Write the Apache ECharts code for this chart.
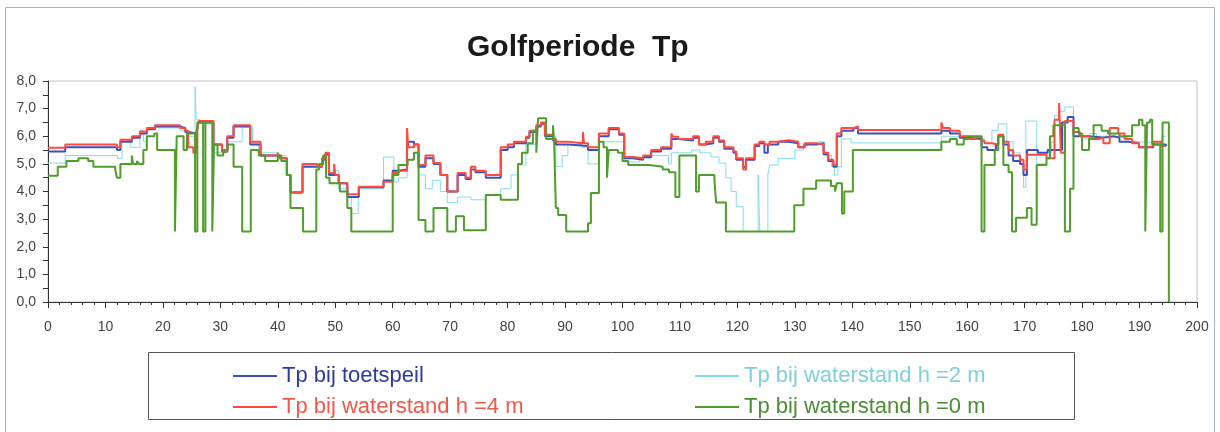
<!DOCTYPE html>
<html lang="nl">
  <head>
    <meta charset="UTF-8" />
    <title>Golfperiode Tp</title>
    <script src="https://cdn.jsdelivr.net/npm/echarts@6/dist/echarts.min.js"></script>
    <style>
      html, body { margin: 0; padding: 0; background: #fff; }
      #main { width: 1220px; height: 432px; }
    </style>
  </head>
  <body>
    <div id="main"></div>
    <script>
      // step data: [x where the value starts, value]
      const toetspeil = [
        [0, 5.45], [3.0, 5.6], [12.0, 5.5], [12.6, 5.8], [14.6, 5.95], [16.0, 6.1], [17.2, 6.25], [18.6, 6.35],
        [23.0, 6.3], [23.9, 6.15], [24.4, 6.1], [25.9, 6.2], [26.2, 6.5], [28.8, 5.7], [30.3, 5.45], [31.2, 5.95],
        [32.3, 6.35], [35.2, 5.7], [37.0, 5.3], [40.3, 5.2], [41.6, 4.6], [42.2, 3.96], [44.3, 4.9], [47.7, 5.15],
        [48.3, 5.35], [48.9, 4.6], [50.6, 4.3], [52.1, 3.8], [54.1, 4.15], [58.4, 4.4], [60.0, 4.75], [61.0, 4.8],
        [62.5, 5.8], [63.7, 5.7], [64.5, 4.9], [65.7, 5.2], [67.1, 5.0], [68.3, 4.6], [69.5, 4.0], [71.3, 4.6],
        [72.7, 4.45], [73.6, 4.8], [74.4, 4.7], [76.2, 4.5], [78.8, 5.5], [80.0, 5.6], [81.1, 5.75], [83.2, 5.95],
        [83.8, 6.15], [85.0, 6.35], [85.8, 6.45], [86.5, 6.0], [87.9, 5.85], [88.4, 5.7], [90.5, 5.65], [94.0, 5.5],
        [95.9, 6.0], [97.6, 6.25], [99.4, 6.05], [100.3, 5.2], [101.8, 5.15], [103.6, 5.25], [105.0, 5.45],
        [106.7, 5.55], [108.5, 5.9], [109.7, 5.85], [112.3, 5.95], [113.3, 5.7], [114.5, 5.75], [115.8, 5.95],
        [116.8, 5.8], [117.7, 5.55], [119.3, 5.4], [119.8, 5.15], [121.0, 4.9], [121.5, 5.15], [123.0, 5.65],
        [123.8, 5.75], [124.7, 5.4], [125.3, 5.7], [127.1, 5.8], [128.9, 5.75], [130.6, 5.6], [131.7, 5.7],
        [133.7, 5.75], [135.0, 5.35], [135.8, 5.1], [136.7, 4.9], [137.3, 6.0], [138.1, 6.2], [140.2, 6.3],
        [141.0, 6.1], [155.5, 6.2], [157.0, 6.1], [158.7, 5.95], [160.0, 5.9], [162.5, 5.6], [163.5, 5.5],
        [165.0, 5.7], [165.4, 6.0], [166.3, 5.7], [167.2, 5.3], [168.0, 5.1], [169.2, 5.0], [169.8, 4.6],
        [170.4, 5.5], [172.3, 5.4], [174.0, 5.5], [176.5, 6.5], [177.5, 6.7], [178.5, 6.0], [181.3, 5.95],
        [183.7, 6.0], [185.5, 5.95], [186.5, 5.8], [188.0, 5.75], [189.9, 5.6], [192.4, 5.7], [194.6, 5.65]
      ];

      const h2m = [
        [0, 5.03], [3.0, 5.3], [12.1, 5.2], [12.9, 5.87], [14.3, 5.6], [16.0, 6.2], [16.6, 5.8], [17.2, 6.3],
        [23.0, 6.2], [24.2, 6.0], [25.6, 7.8], [25.8, 6.6], [26.5, 6.5], [28.8, 5.4], [31.2, 5.8], [33.8, 6.35],
        [35.6, 5.75], [36.6, 5.4], [40.0, 5.3], [41.3, 4.6], [42.2, 4.0], [44.3, 4.96], [48.0, 5.3], [48.8, 4.75],
        [50.6, 4.1], [52.3, 3.77], [52.8, 3.2], [54.0, 4.1], [58.4, 5.25], [60.2, 4.35], [61.0, 4.5], [62.5, 6.0],
        [62.7, 5.6], [64.5, 4.6], [65.7, 4.1], [66.9, 4.4], [68.3, 4.0], [69.5, 3.6], [71.3, 3.8], [73.6, 3.7],
        [76.2, 3.87], [78.8, 4.1], [80.6, 4.6], [81.8, 4.96], [83.2, 5.7], [85.0, 6.4], [86.5, 6.0], [88.4, 4.9],
        [89.5, 5.3], [90.5, 5.7], [93.0, 5.6], [94.0, 5.0], [96.0, 5.8], [100.3, 5.07], [103.0, 5.2], [105.0, 5.3],
        [108.0, 5.0], [108.5, 5.4], [112.0, 5.5], [113.5, 5.4], [115.4, 5.25], [116.8, 5.03], [118.0, 4.5],
        [118.9, 4.0], [119.8, 3.45], [121.0, 2.55], [123.6, 4.6], [123.9, 2.55], [125.3, 4.6], [125.6, 4.96],
        [127.1, 5.2], [130.0, 5.5], [131.5, 5.7], [134.0, 5.8], [135.2, 5.3], [136.4, 4.9], [136.9, 4.6],
        [137.5, 4.9], [138.1, 5.9], [139.8, 5.76], [155.5, 5.98], [162.0, 5.9], [163.0, 5.75], [164.3, 6.2],
        [165.4, 6.45], [166.9, 5.8], [168.0, 5.4], [169.2, 5.1], [169.8, 4.15], [170.2, 6.55], [172.1, 5.0],
        [173.8, 5.4], [174.7, 5.8], [175.2, 6.75], [176.1, 6.9], [177.0, 7.06], [178.5, 6.3], [179.4, 6.0],
        [180.5, 5.9], [181.3, 6.1], [182.5, 6.0], [185.0, 5.95], [188.0, 5.8], [190.0, 5.75], [193.8, 6.0],
        [194.6, 6.0]
      ];

      const h4m = [
        [0, 5.58], [3.0, 5.7], [12.0, 5.6], [12.6, 5.87], [14.6, 6.0], [16.0, 6.17], [17.2, 6.3], [18.6, 6.4],
        [23.0, 6.3], [23.9, 6.2], [24.4, 5.6], [25.3, 5.4], [25.9, 6.2], [26.2, 6.55], [28.8, 5.7], [30.3, 5.45],
        [31.2, 6.0], [32.3, 6.4], [35.2, 5.8], [37.0, 5.3], [40.0, 5.4], [40.3, 5.2], [41.6, 4.6], [42.2, 3.96],
        [44.3, 5.0], [46.9, 4.9], [47.7, 5.2], [48.3, 5.4], [48.9, 4.67], [49.8, 5.0], [50.0, 4.6], [50.6, 4.3],
        [52.1, 3.9], [54.1, 4.17], [58.4, 4.35], [60.0, 4.67], [61.0, 4.75], [62.5, 6.3], [62.7, 5.6], [63.7, 5.7],
        [64.5, 4.96], [65.7, 5.3], [67.1, 5.03], [68.3, 4.6], [69.5, 4.0], [71.3, 4.67], [72.7, 4.5], [73.6, 4.9],
        [74.4, 4.75], [76.2, 4.6], [78.8, 5.6], [80.0, 5.7], [81.1, 5.8], [83.2, 5.98], [83.8, 6.2], [85.0, 6.4],
        [85.8, 6.5], [86.5, 6.05], [87.9, 5.9], [88.4, 5.8], [90.5, 5.75], [93.1, 6.15], [93.3, 5.75], [94.0, 5.6],
        [95.9, 6.1], [97.6, 6.3], [99.4, 6.1], [100.3, 5.25], [101.8, 5.2], [103.6, 5.3], [105.0, 5.5],
        [106.7, 5.6], [108.5, 6.1], [108.8, 5.98], [109.7, 5.9], [112.3, 6.0], [113.3, 5.7], [114.5, 5.8],
        [115.8, 6.0], [116.8, 5.85], [117.7, 5.6], [119.3, 5.45], [119.8, 5.2], [121.0, 4.8], [121.5, 5.2],
        [123.0, 5.7], [123.8, 5.8], [124.7, 5.7], [125.6, 5.8], [127.1, 5.86], [128.9, 5.8], [130.6, 5.6],
        [131.7, 5.75], [133.7, 5.7], [135.0, 5.4], [135.8, 5.15], [136.7, 4.96], [137.3, 6.1], [138.1, 6.3],
        [140.2, 6.35], [141.0, 6.23], [155.5, 6.5], [155.8, 6.3], [157.0, 6.2], [158.7, 6.0], [160.0, 5.9],
        [161.6, 5.98], [162.5, 5.85], [163.0, 5.75], [164.3, 5.7], [165.4, 6.05], [166.3, 5.8], [167.2, 5.5],
        [168.0, 5.3], [169.2, 5.15], [169.8, 4.8], [170.4, 5.33], [173.8, 5.2], [175.2, 6.6], [176.0, 7.2],
        [176.3, 5.4], [177.0, 6.55], [178.5, 6.15], [179.6, 6.0], [181.3, 5.9], [182.8, 5.95], [183.7, 5.75],
        [184.8, 6.3], [186.3, 6.1], [187.4, 5.9], [188.7, 5.75], [189.9, 5.6], [191.6, 5.65], [192.4, 5.8],
        [193.8, 5.65], [194.6, 5.65]
      ];

      const h0m = [
        [0, 4.57], [1.7, 4.9], [3.2, 5.1], [5.3, 5.2], [7.0, 5.1], [7.9, 4.9], [11.7, 4.8], [12.0, 4.5],
        [12.6, 5.0], [14.6, 5.3], [14.8, 5.0], [15.5, 5.1], [15.8, 5.0], [16.6, 5.5], [17.2, 6.0], [18.5, 6.1],
        [19.0, 5.5], [22.1, 2.55], [22.4, 6.0], [23.6, 5.5], [24.2, 6.1], [25.6, 2.55], [26.0, 6.5], [27.0, 2.55],
        [27.4, 6.5], [28.6, 2.55], [28.9, 5.7], [29.5, 5.3], [30.5, 5.5], [31.3, 5.7], [32.3, 4.9], [33.8, 2.55],
        [35.3, 5.5], [36.7, 5.3], [37.8, 5.1], [40.0, 5.3], [40.6, 5.1], [41.6, 4.6], [42.2, 3.4], [44.4, 2.55],
        [46.7, 4.8], [47.2, 5.0], [47.9, 5.3], [48.4, 4.5], [49.0, 4.3], [50.8, 4.0], [52.1, 3.4], [52.8, 2.55],
        [60.0, 4.6], [61.0, 4.96], [62.6, 5.15], [63.7, 5.4], [64.5, 2.97], [65.7, 2.55], [67.1, 3.4],
        [69.5, 2.55], [71.0, 3.1], [72.4, 2.6], [76.2, 3.87], [78.8, 3.7], [81.8, 5.0], [82.5, 5.4], [83.5, 5.75],
        [84.4, 6.2], [85.0, 5.4], [85.3, 6.65], [86.7, 5.9], [87.9, 6.4], [88.1, 5.8], [88.4, 3.4], [88.8, 3.15],
        [90.2, 2.55], [94.0, 2.85], [94.5, 3.95], [95.9, 5.8], [96.7, 5.6], [97.3, 4.5], [97.6, 5.5], [99.2, 5.4],
        [100.0, 5.1], [101.0, 4.96], [104.6, 4.9], [107.0, 4.8], [108.1, 4.7], [109.2, 3.8], [109.9, 5.3],
        [112.8, 4.0], [113.3, 4.6], [116.0, 4.4], [116.3, 3.6], [118.0, 2.55], [129.9, 3.5], [131.5, 4.1],
        [133.7, 4.4], [136.3, 4.2], [137.0, 4.0], [137.3, 4.3], [138.2, 3.2], [138.6, 4.0], [140.1, 5.5],
        [155.5, 5.8], [157.0, 5.9], [158.2, 5.7], [159.4, 5.9], [160.0, 6.0], [162.5, 2.55], [163.0, 4.96],
        [164.8, 5.5], [165.4, 6.0], [166.3, 4.96], [167.2, 4.7], [167.8, 2.55], [168.5, 3.05], [170.4, 3.4],
        [171.2, 2.8], [172.1, 4.96], [173.8, 5.2], [174.4, 6.0], [175.0, 6.4], [177.0, 2.55], [177.9, 4.1],
        [178.5, 6.3], [179.4, 6.1], [180.0, 5.5], [181.2, 5.9], [182.0, 6.4], [183.4, 6.2], [184.5, 6.1],
        [186.5, 6.0], [188.7, 6.4], [189.9, 6.6], [190.5, 6.4], [191.0, 2.55], [191.3, 6.5], [191.8, 6.6],
        [192.2, 5.7], [193.6, 2.55], [194.0, 6.5], [195.1, 0], [195.2, 0]
      ];

      const seriesNames = [
        'Tp bij toetspeil',
        'Tp bij waterstand h =2 m',
        'Tp bij waterstand h =4 m',
        'Tp bij waterstand h =0 m'
      ];
      const colors = ['#3a50c4', '#86dce8', '#ff4a3c', '#4f9e2c'];
      const textColors = ['#2c3c9c', '#7fd0dc', '#f2584a', '#4a8e34'];

      const chart = echarts.init(document.getElementById('main'));

      function stepLine(name, data, color, width) {
        return {
          name: name,
          type: 'line',
          step: 'end',
          data: data,
          showSymbol: false,
          symbol: 'none',
          animation: false,
          color: color,
          lineStyle: { color: color, width: width }
        };
      }

      function legendItem(i) {
        return { name: seriesNames[i], textStyle: { color: textColors[i] } };
      }

      const legendBase = {
        orient: 'vertical',
        top: 360,
        itemWidth: 44,
        itemHeight: 2,
        itemGap: 9,
        icon: 'rect',
        textStyle: { fontFamily: 'Liberation Sans, Arial', fontSize: 22 }
      };

      chart.setOption({
        backgroundColor: '#fff',
        animation: false,
        title: {
          text: 'Golfperiode  Tp',
          left: 462,
          top: 28,
          textStyle: { fontFamily: 'Liberation Sans, Arial', fontSize: 30, fontWeight: 'bold', color: '#1a1a1a' }
        },
        legend: [
          Object.assign({ left: 228, data: [legendItem(0), legendItem(2)] }, legendBase),
          Object.assign({ left: 690, data: [legendItem(1), legendItem(3)] }, legendBase)
        ],
        graphic: [
          {
            type: 'rect',
            shape: { x: 5.5, y: 7.5, width: 1209, height: 440 },
            style: { fill: 'none', stroke: '#aab4bc', lineWidth: 1 },
            silent: true
          },
          {
            type: 'rect',
            shape: { x: 148.5, y: 352.5, width: 926, height: 67 },
            style: { fill: 'none', stroke: '#555', lineWidth: 1 },
            silent: true
          }
        ],
        grid: {
          left: 48,
          right: 23,
          top: 81,
          bottom: 130,
          show: true,
          borderColor: '#c4c4c4',
          borderWidth: 1
        },
        xAxis: {
          type: 'value',
          min: 0,
          max: 200,
          interval: 10,
          axisLine: { lineStyle: { color: '#333', width: 1 } },
          axisTick: { length: 6, lineStyle: { color: '#333' } },
          minorTick: { show: true, splitNumber: 5, length: 3, lineStyle: { color: '#333' } },
          splitLine: { show: false },
          axisLabel: { margin: 18, color: '#444', fontSize: 14, fontFamily: 'Liberation Sans, Arial' }
        },
        yAxis: {
          type: 'value',
          min: 0,
          max: 8,
          interval: 1,
          axisLine: { show: true, lineStyle: { color: '#333', width: 1 } },
          axisTick: { show: true, length: 5, lineStyle: { color: '#333' } },
          minorTick: { show: true, splitNumber: 2, length: 5, lineStyle: { color: '#333' } },
          splitLine: { show: false },
          axisLabel: {
            margin: 12,
            color: '#444',
            fontSize: 14,
            fontFamily: 'Liberation Sans, Arial',
            formatter: function (v) { return v.toFixed(1).replace('.', ','); }
          }
        },
        series: [
          stepLine(seriesNames[1], h2m, colors[1], 1),
          stepLine(seriesNames[0], toetspeil, colors[0], 2),
          stepLine(seriesNames[2], h4m, colors[2], 2),
          stepLine(seriesNames[3], h0m, colors[3], 2)
        ]
      });

      window.onresize = function () {
        chart.resize();
      };
    </script>
  </body>
</html>
